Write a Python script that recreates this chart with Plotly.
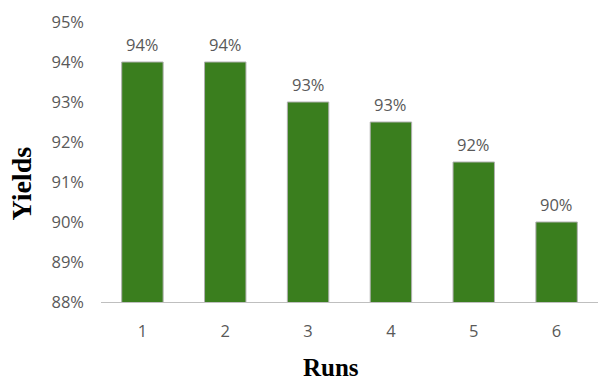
import plotly.graph_objects as go
from decimal import Decimal, ROUND_HALF_UP

# Yield per run
runs = ["1", "2", "3", "4", "5", "6"]
yields = [0.94, 0.94, 0.93, 0.925, 0.915, 0.90]

# y-axis ticks
y_ticks = [0.88, 0.89, 0.90, 0.91, 0.92, 0.93, 0.94, 0.95]


def pct_label(v):
    # whole-percent label, rounding halves upward
    p = (Decimal(str(v)) * 100).quantize(Decimal("1"), rounding=ROUND_HALF_UP)
    return f"{p}%"


GREEN = "#3a7e1e"
TEXT = "#595959"
TICK_FONT = dict(family="Open Sans", size=16.5, color=TEXT)

fig = go.Figure(
    go.Bar(
        x=runs,
        y=yields,
        marker=dict(color=GREEN, line=dict(color="#b0b0b0", width=1)),
        hoverinfo="skip",
    )
)

# value labels above each bar (category positions by index)
for i, v in enumerate(yields):
    fig.add_annotation(
        x=i, y=v, xref="x", yref="y",
        text=pct_label(v),
        showarrow=False,
        yanchor="middle",
        yshift=18,
        font=TICK_FONT,
    )

# axis titles
fig.add_annotation(
    text="<b>Runs</b>", xref="paper", yref="paper",
    x=0.462, y=-0.235, xanchor="center", yanchor="middle",
    showarrow=False,
    font=dict(family="Liberation Serif", size=25, color="black"),
)
fig.add_annotation(
    text="<b>Yields</b>", xref="paper", yref="paper",
    x=-0.159, y=0.423, xanchor="center", yanchor="middle",
    textangle=-90, showarrow=False,
    font=dict(family="Liberation Serif", size=28, color="black"),
)

fig.update_layout(
    width=598,
    height=381,
    margin=dict(l=101, r=0, t=22, b=79),
    paper_bgcolor="white",
    plot_bgcolor="white",
    bargap=0.5,
    showlegend=False,
    xaxis=dict(
        type="category",
        range=[-0.5, 5.5],
        showgrid=False,
        showline=True,
        linecolor="#bfbfbf",
        linewidth=1,
        ticks="",
        tickfont=TICK_FONT,
        ticklabelstandoff=14,
    ),
    yaxis=dict(
        range=[0.88, 0.95],
        tickvals=y_ticks,
        tickformat=".0%",
        showgrid=False,
        showline=False,
        zeroline=False,
        ticks="",
        tickfont=TICK_FONT,
        ticklabelstandoff=16,
    ),
)

fig.write_html("out.html")
